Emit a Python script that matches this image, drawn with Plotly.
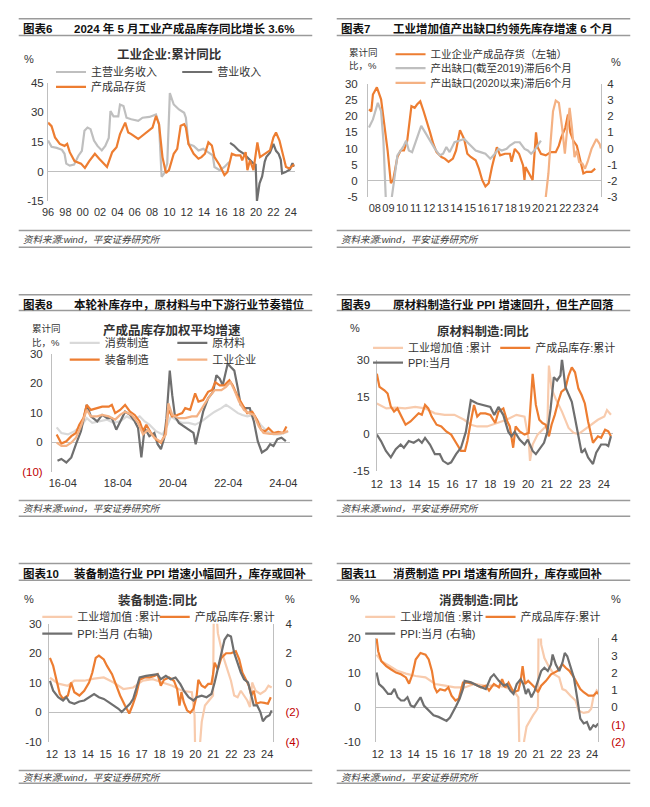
import plotly.graph_objects as go

W, H = 650, 807
def px(x): return x / W
def py(y): return 1 - y / H

FONT = "Liberation Sans, Arial, Noto Sans CJK SC, sans-serif"
ORANGE = "#ED7D31"
DGRAY = "#6F6F6F"
LGRAY = "#BFBFBF"
VLGRAY = "#D9D9D9"
PEACH = "#F4B183"
LPEACH = "#F8CBAD"
AXC = "#BFBFBF"
TXT = "#333333"
RED = "#C00000"

# ---------------- Data: 图表6 ----------------
p6_inv_x = [1996.0, 1996.4, 1996.8, 1997.35, 1997.9, 1998.2, 1998.5, 1999.05, 1999.8, 2000.25, 2000.75, 2001.4, 2001.9,
            2002.4, 2002.8, 2003.4, 2003.9, 2004.3, 2004.9, 2005.25, 2005.6, 2006.4, 2006.9, 2007.7, 2008.05, 2008.45,
            2008.8, 2009.2, 2009.6, 2009.95, 2010.5, 2010.9, 2011.3, 2011.7, 2011.9, 2012.2, 2012.8, 2013.35, 2013.7,
            2014.1, 2014.5, 2014.9, 2015.2, 2015.8, 2016.35, 2016.7, 2017.2, 2017.65, 2018.2, 2018.4, 2018.8, 2019.0,
            2019.3, 2019.7, 2020.15, 2020.45, 2021.0, 2021.6, 2022.0, 2022.3, 2022.7, 2023.0, 2023.45, 2023.85, 2024.15, 2024.4]
p6_inv_y = [24.8, 23, 17.3, 14, 13, 14, 9.8, 5.3, 4, 1.8, 5.3, 9, 6.5, 4, 2.3, 9.8, 12.3, 19, 24.8, 19.8, 19, 16.5, 18.2,
            21, 22.3, 28.2, 24, 7.3, -0.8, 0.7, 9, 11.5, 23.2, 24, 22.3, 14, 9, 6.5, 7.3, 9, 14.8, 13.2, 7.3, 3.2, -1.8,
            -0.2, 9, 8.2, 8.2, 5.7, 9.8, 0.7, 5.7, 0.7, 14.8, 7.3, 9, 10.7, 17.3, 19.8, 15.7, 10.7, 2.3, 1.5, 2.7, 3.6]
p6_main_x = [1996.0, 1996.4, 1997.0, 1997.6, 1997.9, 1998.1, 1998.5, 1999.0, 1999.5, 1999.9, 2000.2, 2000.55, 2000.9,
             2001.3, 2001.7, 2002.2, 2002.6, 2003.0, 2003.2, 2003.55, 2004.1, 2004.3, 2004.7, 2005.05, 2005.6, 2006.4,
             2006.9, 2007.7, 2008.45, 2008.8, 2009.1, 2009.4, 2009.75, 2010.05, 2010.5, 2011.1, 2011.7, 2011.9, 2012.2,
             2012.8, 2013.35, 2013.9, 2014.45, 2015.0, 2015.2, 2015.8, 2016.35, 2016.9]
p6_main_y = [15.7, 12.5, 12, 11, 9, 4, 3, 3.5, 8, 10.5, 20.7, 22.3, 21.5, 15.7, 13, 10.7, 13, 17, 30.7, 28, 28, 34, 33.2,
             27.3, 26.5, 25.7, 27.3, 27.7, 29, 24, -2.7, -1, 4, 39.8, 34, 31.5, 29.8, 27.3, 14, 13, 10.7, 11.5, 9.8, 8.2,
             2.3, 0.7, 2.3, 4.8]
p6_rev_x = [2017.0, 2017.45, 2018.0, 2018.6, 2019.15, 2019.7, 2019.95, 2020.1, 2020.4, 2020.7, 2021.0, 2021.2, 2021.6,
            2022.0, 2022.3, 2022.6, 2022.85, 2023.0, 2023.4, 2023.9, 2024.2, 2024.4]
p6_rev_y = [14.5, 13.2, 10.7, 9, 6.5, 4, 3.5, -15, -6, -2.5, 5, 7.5, 9.5, 14, 10.5, 9, 6, -1, -0.3, 1, 4.2, 2.5]
p6_xticks = list(range(1996, 2025, 2))
p6_xlabels = ["96", "98", "00", "02", "04", "06", "08", "10", "12", "14", "16", "18", "20", "22", "24"]

# ---------------- Data: 图表7 ----------------
p7_inv_x = [2008.07, 2008.24, 2008.36, 2008.65, 2008.96, 2009.2, 2009.44, 2009.68, 2009.85, 2010.16, 2010.4, 2010.64,
            2010.88, 2011.19, 2011.43, 2011.6, 2011.84, 2012.08, 2012.32, 2012.56, 2012.8, 2013.04, 2013.4, 2013.64,
            2013.92, 2014.24, 2014.47, 2014.76, 2015.07, 2015.3, 2015.55, 2015.91, 2016.15, 2016.39, 2016.63, 2016.87,
            2017.11, 2017.47, 2017.71, 2018.07, 2018.43, 2018.55, 2018.79, 2019.1, 2019.4, 2019.5, 2019.58, 2019.87,
            2020.1, 2020.35, 2020.47, 2020.71, 2021.07, 2021.43, 2021.8, 2022.03, 2022.2, 2022.5, 2022.7, 2022.87,
            2023.1, 2023.35, 2023.59, 2023.83, 2024.07, 2024.43, 2024.7]
p7_inv_y = [22.1, 21.5, 26.7, 28.9, 25.2, 17.5, 9.4, -0.7, 0.3, 7.4, 9.4, 9.4, 12.4, 23.1, 22.6, 23.6, 24.6, 21.6, 18.5,
            15, 11.4, 8.9, 7.4, 6.9, 5.9, 6.9, 9.4, 15.7, 12.9, 8.4, 7.4, 6.4, 3.8, 0.3, -1.7, -0.7, 4.3, 10.4, 7.9, 8.4,
            8.4, 5.9, 9.9, 8.4, 4.8, 0.3, 4.3, 2.3, 0.3, 15, 10.4, 8.4, 7.9, 8.9, 8.9, 10.9, 13.4, 16.4, 20.5, 15, 12.4,
            10.9, 6.4, 2.3, 2.8, 2.8, 3.8]
p7_gap1_x = [2008.07, 2008.36, 2008.72, 2008.96, 2009.13, 2009.27, 2009.4, 2009.6, 2009.75, 2009.92, 2010.16, 2010.4,
             2010.64, 2010.8, 2011.0, 2011.24, 2011.6, 2011.91, 2012.2, 2012.56, 2012.92, 2013.28, 2013.52, 2013.76,
             2014.0, 2014.36, 2014.71, 2015.07, 2015.43, 2015.91, 2016.27, 2016.63, 2016.99, 2017.23, 2017.59, 2017.83,
             2018.19, 2018.43, 2018.79, 2019.15, 2019.51, 2019.75, 2019.99, 2020.23, 2020.47, 2020.71]
p7_gap1_y = [1.3, 1.8, 2.82, 2.3, 0.49, -2.96, -5, -5, -3, -1.95, -0.42, -0.12, 0.19, 0.49, -0.12, -0.22, 0.69, 1.4,
             1.0, 0.49, -0.02, -0.42, -0.32, 0.09, -0.22, 0.39, 0.49, 0.59, 0.28, -0.12, -0.22, -0.32, -0.63, -0.42,
             -0.02, -0.12, -0.02, 0.19, 0.39, 0.39, -0.02, -0.12, -0.32, -0.12, 0.19, 0.49]
p7_gap2_x = [2021.0, 2021.26, 2021.43, 2021.6, 2021.8, 2022.03, 2022.27, 2022.47, 2022.63, 2022.82, 2022.99, 2023.18,
             2023.35, 2023.52, 2023.76, 2023.95, 2024.14, 2024.43, 2024.79, 2025.03, 2025.12]
p7_gap2_y = [-3.5, -1.54, 0.49, 2.3, 2.96, 2.82, 1.3, -0.32, 1.1, 2.51, 1.3, -0.53, -0.12, -0.83, -0.93, -1.24, -0.83,
             -0.02, 0.59, 0.28, 0.0]
p7_xticks = [y + 0.5 for y in range(2008, 2025)]
p7_xlabels = ["08", "09", "10", "11", "12", "13", "14", "15", "16", "17", "18", "19", "20", "21", "22", "23", "24"]

# ---------------- Data: 图表8 ----------------
p8_raw_x = [2016.06, 2016.2, 2016.38, 2016.56, 2016.73, 2016.91, 2017.12, 2017.27, 2017.5, 2017.68, 2017.86, 2018.03,
            2018.19, 2018.33, 2018.51, 2018.69, 2018.86, 2018.98, 2019.1, 2019.22, 2019.39, 2019.57, 2019.69, 2019.81,
            2019.93, 2020.01, 2020.13, 2020.22, 2020.32, 2020.46, 2020.64, 2020.81, 2020.99, 2021.07, 2021.17, 2021.34,
            2021.52, 2021.7, 2021.82, 2021.94, 2022.05, 2022.17, 2022.23, 2022.35, 2022.47, 2022.6, 2022.7, 2022.85,
            2023.03, 2023.18, 2023.32, 2023.47, 2023.65, 2023.77, 2023.89, 2024.03, 2024.18, 2024.34]
p8_raw_y = [-6.2, -5.6, -6.8, -5.1, -0.6, 3.8, 12.7, 8.8, 7.1, 9.3, 8.2, 8.2, 4.3, 7.1, 10.4, 9.3, 7.1, 4.9, -5.1, 4.9,
            2.1, 3.2, -0.6, -2.3, 1.6, 8.2, 24.3, 16, 8.8, 6.6, 5.4, 4.3, 3.2, -0.6, 3.8, 10.4, 14.9, 17.1, 22.7, 21.6,
            19.3, 23.8, 26.6, 25.4, 24.3, 18.2, 12.7, 11.6, 11.6, 7.1, 0.4, -3.4, -2.3, -0.6, -1.2, 1.1, 1.6, 0.4]
p8_equip_x = [2016.03, 2016.2, 2016.38, 2016.56, 2016.73, 2016.85, 2017.0, 2017.12, 2017.27, 2017.5, 2017.68, 2017.92,
              2018.03, 2018.15, 2018.33, 2018.51, 2018.69, 2018.86, 2019.04, 2019.16, 2019.28, 2019.45, 2019.63, 2019.81,
              2019.96, 2020.08, 2020.22, 2020.4, 2020.58, 2020.69, 2020.87, 2021.05, 2021.17, 2021.34, 2021.52, 2021.66,
              2021.78, 2021.94, 2022.11, 2022.29, 2022.41, 2022.6, 2022.76, 2022.94, 2023.12, 2023.29, 2023.44, 2023.59,
              2023.71, 2023.89, 2024.06, 2024.24, 2024.36]
p8_equip_y = [2.7, -0.4, 0.4, 2.1, 3.2, 6, 8.2, 12.7, 11, 11.6, 12.1, 12.1, 12.7, 9.9, 11, 12.7, 10.4, 9.3, 7.1, 3.8, 6,
              3.2, 1.0, -0.1, 2.7, 11, 8.8, 9.3, 9.9, 11.6, 11, 16.6, 13.8, 14.3, 17.1, 17.7, 20.4, 19.3, 19.3, 21, 19.3,
              15.4, 12.7, 9.9, 10.4, 7.7, 4.3, 3.8, 4.9, 3.2, 3.6, 3.2, 5.4]
p8_ind_x = [2016.03, 2016.2, 2016.38, 2016.56, 2016.73, 2016.91, 2017.12, 2017.27, 2017.5, 2017.68, 2017.92, 2018.15,
            2018.33, 2018.51, 2018.75, 2018.98, 2019.16, 2019.34, 2019.57, 2019.81, 2019.99, 2020.08, 2020.22, 2020.46,
            2020.69, 2020.93, 2021.11, 2021.29, 2021.52, 2021.76, 2022.0, 2022.17, 2022.33, 2022.47, 2022.64, 2022.82,
            2023.0, 2023.18, 2023.36, 2023.53, 2023.77, 2024.0, 2024.24, 2024.42]
p8_ind_y = [-0.1, -1.2, -1.2, -0.1, 1.6, 5.4, 11, 8.8, 8.8, 9.3, 8.8, 7.7, 9.3, 10.4, 9.3, 6.6, 2.7, 4.3, 1.6, 0.2, 2.7,
            13.2, 9.3, 8.2, 8.2, 8.8, 8.8, 11.6, 14.9, 17.7, 17.7, 18.8, 20.4, 17.7, 13.8, 11, 9.9, 9.3, 5.4, 3.2, 2.9,
            2.9, 3.2, 3.9]
p8_cons_x = [2016.03, 2016.2, 2016.44, 2016.68, 2016.91, 2017.12, 2017.32, 2017.56, 2017.86, 2018.09, 2018.33, 2018.57,
             2018.8, 2019.04, 2019.22, 2019.39, 2019.63, 2019.87, 2020.05, 2020.17, 2020.34, 2020.58, 2020.81, 2021.05,
             2021.29, 2021.52, 2021.76, 2022.0, 2022.17, 2022.35, 2022.6, 2022.76, 2022.94, 2023.18, 2023.42, 2023.65,
             2023.89, 2024.12, 2024.42]
p8_cons_y = [5.1, 3.2, 2.7, 3.8, 5.4, 8.2, 6.6, 7.1, 7.7, 6.6, 7.1, 8.8, 7.7, 8.8, 7.1, 6, 3.8, 2.7, 6, 8.8, 7.7, 6.6,
             6.6, 6, 7.1, 8.8, 10.4, 11.6, 12.7, 11.6, 9.9, 9.3, 8.8, 9.3, 6, 3.8, 2.7, 2.7, 3.6]
p8_xticks = [2016.25, 2018.25, 2020.25, 2022.25, 2024.25]
p8_xlabels = ["16-04", "18-04", "20-04", "22-04", "24-04"]

# ---------------- Data: 图表9 ----------------
p9_ppi_x = [2012.0, 2012.22, 2012.48, 2012.74, 2013.0, 2013.26, 2013.43, 2013.69, 2013.95, 2014.21, 2014.38, 2014.55,
            2014.81, 2015.07, 2015.33, 2015.5, 2015.76, 2015.93, 2016.19, 2016.45, 2016.71, 2016.97, 2017.31, 2017.74,
            2018.0, 2018.21, 2018.43, 2018.69, 2018.95, 2019.12, 2019.29, 2019.55, 2019.81, 2019.98, 2020.24, 2020.41,
            2020.59, 2020.84, 2021.02, 2021.19, 2021.36, 2021.53, 2021.71, 2021.79, 2021.97, 2022.14, 2022.31, 2022.48,
            2022.66, 2022.83, 2023.0, 2023.17, 2023.43, 2023.6, 2023.86, 2024.12, 2024.24, 2024.38]
p9_ppi_y = [-0.3, -2.9, -6.9, -9.5, -6.2, -4.3, -5.6, -2.9, -3.6, -2.3, -3.6, -1.6, -4.3, -8.2, -8.2, -10.9, -12.2,
            -11.5, -8.2, -5.6, 0.9, 13.6, 12.3, 11.6, 10.9, 7.6, 10.9, 7.6, 0.9, -1, 0.9, -2.3, -4.3, -2.3, -6.9, -8.2,
            -6.2, -3.6, 0.9, 10.2, 22.9, 21.6, 23.6, 30.3, 19, 16.3, 13, 6.3, -0.3, -7.6, -6.2, -9.5, -12.2, -7.6, -4.3,
            -4.3, -4.9, -0.9]
p9_inv_x = [2012.0, 2012.14, 2012.4, 2012.57, 2012.74, 2012.91, 2013.09, 2013.26, 2013.52, 2013.78, 2014.03, 2014.21,
            2014.38, 2014.55, 2014.72, 2014.9, 2015.16, 2015.41, 2015.67, 2015.93, 2016.19, 2016.45, 2016.66, 2016.79,
            2016.97, 2017.14, 2017.31, 2017.48, 2017.74, 2018.0, 2018.26, 2018.43, 2018.69, 2018.9, 2019.03, 2019.21,
            2019.34, 2019.55, 2019.81, 2020.03, 2020.24, 2020.41, 2020.59, 2020.76, 2020.93, 2021.1, 2021.24, 2021.41,
            2021.59, 2021.76, 2021.97, 2022.14, 2022.31, 2022.48, 2022.66, 2022.83, 2023.0, 2023.17, 2023.43, 2023.69,
            2023.86, 2024.07, 2024.24, 2024.38]
p9_inv_y = [24.3, 19, 17.6, 16.3, 11, 9, 10.3, 7.7, 3.7, 5, 7, 8.3, 7.7, 11.7, 10.3, 7, 3.7, 3, 1, -0.3, -3.6, -6.9,
            -6.9, -2.9, 5, 11.7, 7, 8.3, 8.3, 7.7, 4.4, 9, 10.3, 5, 3, -5.6, 3, 1, -0.3, 0.4, 24.3, 11.7, 5.7, 4.4, 3.7,
            -1, 3.7, 7.7, 13, 17, 18.3, 23.6, 26.9, 24.9, 18.3, 15.7, 12.3, 5, -3.6, -1, -1.6, 1.7, 1, -1]
p9_iva_x = [2012.0, 2012.5, 2013.0, 2013.5, 2014.03, 2014.55, 2015.07, 2015.59, 2016.1, 2016.62, 2016.97, 2017.31,
            2017.83, 2018.34, 2018.86, 2019.38, 2019.81, 2020.03, 2020.1, 2020.24, 2020.5, 2020.76, 2021.02, 2021.1,
            2021.24, 2021.45, 2021.79, 2022.14, 2022.4, 2022.66, 2023.0, 2023.34, 2023.69, 2024.03, 2024.17, 2024.38]
p9_iva_y = [12.3, 10.3, 10.6, 10.3, 10.9, 10.3, 8.3, 7.7, 7.7, 5.7, 3.7, 3, 3, 4.4, 5.7, 7.7, 7, -2.3, -10.9, -4.3,
            -0.3, 1.7, 3.7, 27.6, 18.3, 14.3, 9, 2.4, 0.4, -0.1, 1.7, 3.7, 5.7, 7, 9.6, 7.7]
p9_xticks = list(range(2012, 2025))
p9_xlabels = ["12", "13", "14", "15", "16", "17", "18", "19", "20", "21", "22", "23", "24"]

# ---------------- Data: 图表10 ----------------
p10_ppi_x = [2011.89, 2012.07, 2012.35, 2012.62, 2012.8, 2012.98, 2013.25, 2013.53, 2013.8, 2014.07, 2014.35, 2014.62,
             2014.89, 2015.16, 2015.44, 2015.71, 2015.89, 2016.07, 2016.35, 2016.53, 2016.71, 2016.89, 2017.25, 2017.62,
             2017.89, 2018.07, 2018.35, 2018.62, 2018.89, 2019.16, 2019.35, 2019.62, 2019.89, 2020.07, 2020.35, 2020.62,
             2020.89, 2021.07, 2021.25, 2021.44, 2021.62, 2021.8, 2021.98, 2022.16, 2022.35, 2022.53, 2022.71, 2022.93,
             2023.07, 2023.25, 2023.44, 2023.62, 2023.76, 2023.95, 2024.13, 2024.25]
p10_ppi_y = [0.13, -0.53, -0.98, -1.2, -0.98, -1.31, -1.42, -1.27, -1.2, -0.98, -0.76, -0.98, -1.09, -1.31, -1.53,
             -1.76, -1.98, -1.76, -1.42, -1.09, -0.42, 0.36, 0.47, 0.51, 0.58, 0.24, 0.47, 0.24, 0.36, -0.09, -0.53,
             -0.98, -1.2, -0.98, -0.87, -0.98, -0.76, 0.02, 1.0, 2.02, 2.91, 3.24, 3.13, 2.02, 1.36, 0.69, 0.24, 0.02,
             -0.64, -1.53, -1.53, -1.98, -2.6, -2.31, -2.2, -1.87]
p10_inv_x = [2011.89, 2012.07, 2012.25, 2012.44, 2012.62, 2012.89, 2013.07, 2013.25, 2013.53, 2013.8, 2014.07, 2014.25,
             2014.44, 2014.62, 2014.89, 2015.07, 2015.35, 2015.53, 2015.8, 2016.07, 2016.31, 2016.49, 2016.71, 2016.89,
             2017.16, 2017.44, 2017.71, 2017.89, 2018.07, 2018.25, 2018.53, 2018.8, 2018.98, 2019.11, 2019.22, 2019.35,
             2019.53, 2019.71, 2019.89, 2020.07, 2020.16, 2020.35, 2020.53, 2020.71, 2020.89, 2020.98, 2021.07, 2021.25,
             2021.44, 2021.71, 2021.98, 2022.25, 2022.44, 2022.62, 2022.8, 2022.98, 2023.11, 2023.25, 2023.4, 2023.62,
             2023.84, 2024.04, 2024.2]
p10_inv_y = [18.4, 15.7, 11, 6.2, 4.6, 5.7, 10.1, 6.8, 5.7, 7.3, 10.1, 13.4, 18.4, 19.2, 17.9, 15.7, 12.9, 10.1, 5.7,
             2.3, -0.4, 2.3, 6.2, 11, 11.8, 11.8, 12.3, 12.9, 9, 11, 11.8, 10.7, 7.9, 2.3, 6.8, 3.4, 0.7, -0.1, 1.2, 5.7,
             11, 9, 8.4, 9.6, 9.6, 12.9, 16.8, 14.6, 18.4, 20, 20, 20.7, 17.9, 13.4, 11, 9, 5.7, 7.3, 2.9, 3.4, 3.2, 2.9,
             5.1]
p10_iva_x = [2011.89, 2012.35, 2012.89, 2013.25, 2013.8, 2014.35, 2014.89, 2015.44, 2015.98, 2016.53, 2017.07, 2017.62,
             2018.16, 2018.71, 2019.25, 2019.8, 2019.95, 2020.02, 2020.2, 2020.35, 2020.53, 2020.8, 2020.98, 2021.04,
             2021.1, 2021.25, 2021.53, 2021.8, 2021.98, 2022.16, 2022.35, 2022.53, 2022.71, 2022.89, 2023.04, 2023.16,
             2023.35, 2023.62, 2023.89, 2024.07, 2024.25]
p10_iva_y = [11.7, 9.7, 9, 10.7, 10.7, 11.4, 11.8, 10.1, 7.9, 8.4, 10.7, 11.2, 10.1, 9, 7.3, 6.8, -1, -25, -15, -3.2,
             2.3, 4.6, 5.7, 45, 40, 26.8, 19.2, 14.2, 10.7, 5.7, 5.1, 7.3, 5.7, 4, 1.8, 10.1, 7.3, 6.2, 7.3, 9, 8.4]
p10_xticks = list(range(2012, 2025))
p10_xlabels = p9_xlabels

# ---------------- Data: 图表11 ----------------
p11_inv_x = [2011.93, 2012.02, 2012.2, 2012.47, 2012.75, 2013.02, 2013.3, 2013.57, 2013.75, 2013.94, 2014.12, 2014.39,
             2014.67, 2014.85, 2015.03, 2015.18, 2015.31, 2015.49, 2015.76, 2015.95, 2016.13, 2016.35, 2016.53, 2016.77,
             2017.04, 2017.41, 2017.77, 2018.05, 2018.23, 2018.5, 2018.78, 2018.96, 2019.14, 2019.32, 2019.6, 2019.87,
             2020.0, 2020.11, 2020.24, 2020.42, 2020.6, 2020.79, 2020.97, 2021.15, 2021.42, 2021.7, 2022.06, 2022.34,
             2022.52, 2022.73, 2022.98, 2023.16, 2023.34, 2023.53, 2023.8, 2024.07, 2024.26, 2024.35]
p11_inv_y = [20.1, 16.3, 13.4, 12, 11, 10.1, 9.6, 8.7, 6.9, 9.6, 13.9, 15.8, 15.3, 13.9, 10.6, 5.8, 4.4, 5.3, 4.9, 5.8,
             3.4, 2, 2.5, 7.2, 7.2, 6.8, 5.8, 6.3, 4.9, 6.8, 5.8, 8.2, 5.8, 7.2, 4.4, 4.9, 7.7, 12, 6.8, 7.7, 6.8, 5.8,
             4.4, 6.3, 7.7, 9.6, 10.6, 12.5, 11.5, 10.6, 8.7, 6.8, 5.3, 4.4, 3.4, 3.4, 4.4, 3.9]
p11_iva_x = [2011.93, 2012.2, 2012.66, 2013.11, 2013.57, 2014.12, 2014.67, 2015.21, 2015.76, 2016.31, 2016.86, 2017.41,
             2017.95, 2018.5, 2019.05, 2019.6, 2019.87, 2019.96, 2020.1, 2020.2, 2020.33, 2020.51, 2020.69, 2020.88,
             2020.97, 2021.02, 2021.08, 2021.15, 2021.33, 2021.61, 2021.88, 2022.16, 2022.34, 2022.52, 2022.79, 2023.07,
             2023.25, 2023.53, 2023.8, 2023.95, 2024.07, 2024.26, 2024.35]
p11_iva_y = [15.3, 13.4, 12, 10.6, 9.8, 9.1, 8.7, 6.8, 6.3, 5.8, 5.8, 6.8, 6.3, 6.3, 6, 4.9, 2.9, -20, -14, -9.5, -5.6,
             -3.7, -2.3, -0.9, 0, 35, 28, 18.2, 14.3, 11.5, 9.6, 8.7, 5.3, 4.9, 3.4, 2, -1, -1.6, -1.3, -0.4, 2.9, 4.9,
             4.4]
p11_ppi_x = [2011.93, 2012.07, 2012.29, 2012.57, 2012.75, 2012.93, 2013.11, 2013.3, 2013.48, 2013.66, 2013.84, 2014.03,
             2014.21, 2014.39, 2014.58, 2014.85, 2015.12, 2015.4, 2015.67, 2015.85, 2016.04, 2016.22, 2016.4, 2016.58,
             2016.77, 2016.86, 2017.22, 2017.59, 2018.05, 2018.32, 2018.5, 2018.78, 2019.05, 2019.23, 2019.42, 2019.6,
             2019.78, 2020.0, 2020.15, 2020.29, 2020.42, 2020.6, 2020.79, 2020.97, 2021.15, 2021.33, 2021.52, 2021.7,
             2021.79, 2021.97, 2022.16, 2022.34, 2022.47, 2022.61, 2022.79, 2022.98, 2023.16, 2023.34, 2023.53, 2023.71,
             2023.89, 2024.07, 2024.2, 2024.35]
p11_ppi_y = [2.02, 1.35, 1.15, 0.78, 0.78, 1.07, 0.59, 0.4, 0.4, 0.59, 0.11, 0.02, 0.31, 0.59, 0.11, -0.17, -0.46,
             -0.55, -0.7, -0.78, -0.59, -0.27, 0.11, 0.5, 1.07, 1.54, 1.45, 1.26, 1.07, 1.73, 1.92, 1.54, 1.26, 1.35,
             0.97, 0.78, 1.35, 1.64, 1.35, 0.78, 1.07, 0.59, 0.97, 1.54, 2.11, 2.3, 2.11, 2.49, 3.07, 2.49, 2.11, 2.59,
             3.16, 2.97, 2.3, 1.73, 0.59, -0.65, -0.93, -0.84, -1.31, -1.03, -1.12, -0.93]
p11_xticks = list(range(2012, 2025))
p11_xlabels = p9_xlabels

# ---------------- Figure ----------------
fig = go.Figure()

def add(x, y, name, color, xa, ya, legend, width=2.2):
    fig.add_trace(go.Scatter(x=x, y=y, name=name, mode="lines",
                             line=dict(color=color, width=width),
                             xaxis=xa, yaxis=ya, legend=legend, hoverinfo="skip", showlegend=True))

# 图表6
add(p6_main_x, p6_main_y, "主营业务收入", LGRAY, "x", "y", "legend")
add(p6_rev_x, p6_rev_y, "营业收入", DGRAY, "x", "y", "legend2")
add(p6_inv_x, p6_inv_y, "产成品存货", ORANGE, "x", "y", "legend3")
# 图表7
add(p7_inv_x, p7_inv_y, "工业企业产成品存货（左轴）", ORANGE, "x2", "y2", "legend4")
add(p7_gap1_x, p7_gap1_y, "产出缺口(截至2019)滞后6个月", LGRAY, "x2", "y3", "legend5")
add(p7_gap2_x, p7_gap2_y, "产出缺口(2020以来)滞后6个月", PEACH, "x2", "y3", "legend6")
# 图表8
add(p8_cons_x, p8_cons_y, "消费制造", VLGRAY, "x3", "y4", "legend7")
add(p8_raw_x, p8_raw_y, "原材料", DGRAY, "x3", "y4", "legend8")
add(p8_equip_x, p8_equip_y, "装备制造", ORANGE, "x3", "y4", "legend9")
add(p8_ind_x, p8_ind_y, "工业企业", PEACH, "x3", "y4", "legend10")
# 图表9
add(p9_iva_x, p9_iva_y, "工业增加值 :累计", LPEACH, "x4", "y5", "legend11")
add(p9_inv_x, p9_inv_y, "产成品库存:累计", ORANGE, "x4", "y5", "legend12")
add(p9_ppi_x, p9_ppi_y, "PPI:当月", DGRAY, "x4", "y5", "legend13")
# 图表10
add(p10_iva_x, p10_iva_y, "工业增加值 :累计", LPEACH, "x5", "y6", "legend14")
add(p10_inv_x, p10_inv_y, "产成品库存:累计", ORANGE, "x5", "y6", "legend15")
add(p10_ppi_x, p10_ppi_y, "PPI:当月 (右轴)", DGRAY, "x5", "y7", "legend16")
# 图表11
add(p11_iva_x, p11_iva_y, "工业增加值 :累计", LPEACH, "x6", "y8", "legend17")
add(p11_inv_x, p11_inv_y, "产成品库存:累计", ORANGE, "x6", "y8", "legend18")
add(p11_ppi_x, p11_ppi_y, "PPI:当月 (右轴)", DGRAY, "x6", "y9", "legend19")

tickfont = dict(family=FONT, size=11.5, color=TXT)
xtickfont = dict(family=FONT, size=11, color=TXT)

def xax(d0, d1, rng, tv, tt, anchor, standoff=3):
    return dict(domain=[px(d0), px(d1)], range=rng, anchor=anchor, tickmode="array", tickvals=tv, ticktext=tt,
                showgrid=False, zeroline=False, showline=False, ticks="", tickfont=xtickfont, tickangle=0,
                ticklabelstandoff=standoff, fixedrange=True)

def yax(top, bot, rng, tv, tt, anchor, side="left", overlay=None, zeroline=True, standoff=2):
    d = dict(range=rng, anchor=anchor, side=side, tickmode="array", tickvals=tv, ticktext=tt,
             showgrid=False, zeroline=zeroline, zerolinecolor=AXC, zerolinewidth=1,
             showline=True, linecolor=AXC, linewidth=1, ticks="", tickfont=tickfont, tickangle=0,
             ticklabelstandoff=standoff, fixedrange=True)
    if overlay:
        d["overlaying"] = overlay
    else:
        d["domain"] = [py(bot), py(top)]
    return d

def red(s):
    return "<span style='color:%s'>%s</span>" % (RED, s)

lay = dict(
    width=W, height=H, margin=dict(l=0, r=0, t=0, b=0),
    paper_bgcolor="white", plot_bgcolor="white", showlegend=True,
    font=dict(family=FONT, color=TXT),
    xaxis=xax(43, 295, [1996, 2024.45], p6_xticks, p6_xlabels, "y"),
    yaxis=yax(78, 198, [-15, 45], [-15, 0, 15, 30, 45], ["-15", "0", "15", "30", "45"], "x", standoff=1),
    xaxis2=xax(370, 608, [2008, 2025.12], p7_xticks, p7_xlabels, "y2"),
    yaxis2=yax(79, 194, [-5, 30], list(range(-5, 31, 5)), [str(v) for v in range(-5, 31, 5)], "x2", standoff=7),
    yaxis3=yax(79, 194, [-3, 4], list(range(-3, 5)), [str(v) for v in range(-3, 5)], "x2", side="right",
               overlay="y2", zeroline=False, standoff=3),
    xaxis3=xax(47, 290, [2015.86, 2024.48], p8_xticks, p8_xlabels, "y4"),
    yaxis4=yax(353, 473, [-10, 30], [-10, 0, 10, 20, 30], [red("(10)"), "0", "10", "20", "30"], "x3", standoff=6),
    xaxis4=xax(379, 620, [2012.0, 2024.47], p9_xticks, p9_xlabels, "y5", standoff=5),
    yaxis5=yax(359, 472, [-15, 30], [-15, 0, 15, 30], ["-15", "0", "15", "30"], "x4", standoff=4),
    xaxis5=xax(44, 273, [2011.84, 2024.33], p10_xticks, p10_xlabels, "y6", standoff=4),
    yaxis6=yax(627, 747, [-10, 30], [-10, 0, 10, 20, 30], ["-10", "0", "10", "20", "30"], "x5", standoff=4),
    yaxis7=yax(627, 747, [-4, 4], [-4, -2, 0, 2, 4], [red("(4)"), red("(2)"), "0", "2", "4"], "x5", side="right",
               overlay="y6", zeroline=False, standoff=9),
    xaxis6=xax(378, 605, [2011.89, 2024.33], p11_xticks, p11_xlabels, "y8", standoff=4),
    yaxis8=yax(642, 747, [-10, 20], [-10, 0, 10, 20], ["-10", "0", "10", "20"], "x6", standoff=12),
    yaxis9=yax(642, 747, [-2, 4], list(range(-2, 5)), [red("(2)"), red("(1)"), "0", "1", "2", "3", "4"], "x6",
               side="right", overlay="y8", zeroline=False, standoff=10),
)

# legends: (key, text start x, y center, font size)
legs = [("legend", 86, 67, 11), ("legend2", 215, 67, 11), ("legend3", 86, 82, 11),
        ("legend4", 433, 49, 10.5), ("legend5", 433, 63, 10.5), ("legend6", 433, 78, 10.5),
        ("legend7", 100, 342, 11), ("legend8", 210, 342, 11), ("legend9", 100, 359, 11), ("legend10", 210, 359, 11),
        ("legend11", 410, 347, 11), ("legend12", 540, 347, 11), ("legend13", 410, 362, 11),
        ("legend14", 72, 620, 11), ("legend15", 192, 620, 11), ("legend16", 72, 637, 11),
        ("legend17", 402, 620, 11), ("legend18", 525, 620, 11), ("legend19", 402, 637, 11)]
for key, tx, ty, fs in legs:
    lay[key] = dict(x=px(tx - 40), y=py(ty), xanchor="left", yanchor="middle", orientation="h",
                    bgcolor="rgba(0,0,0,0)", borderwidth=0, itemwidth=30, tracegroupgap=0, visible=True,
                    font=dict(family=FONT, size=fs, color=TXT), itemclick=False, itemdoubleclick=False)

fig.update_layout(**lay)

ann = []
def text(x, y, s, size=11, anchor="left", color=TXT):
    ann.append(dict(x=px(x), y=py(y), xref="paper", yref="paper", text=s, showarrow=False,
                    xanchor=anchor, yanchor="middle", font=dict(family=FONT, size=size, color=color)))

# header titles
heads = [(15, 67, 22.5, "图表6", "2024 年 5 月工业产成品库存同比增长 3.6%"),
         (340, 393, 22.5, "图表7", "工业增加值产出缺口约领先库存增速 6 个月"),
         (15, 67, 302.5, "图表8", "本轮补库存中，原材料与中下游行业节奏错位"),
         (340, 393, 302.5, "图表9", "原材料制造行业 PPI 增速回升，但生产回落"),
         (15, 67, 576, "图表10", "装备制造行业 PPI 增速小幅回升，库存或回补"),
         (340, 393, 576, "图表11", "消费制造 PPI 增速有所回升，库存或回补")]
for x0, x1, y, a, b in heads:
    text(x0, y, "<b>%s</b>" % a, 11.5, color="#111111")
    text(x1, y, "<b>%s</b>" % b, 11.5, color="#111111")

# source lines
for x0, y in [(15, 237), (340, 237), (15, 510), (340, 510), (15, 783), (340, 783)]:
    text(x0, y, "<i>资料来源:wind，平安证券研究所</i>", 9.5, color="#404040")

# chart titles
text(167, 49, "<b>工业企业:累计同比</b>", 12.5, "center")
text(170, 329, "<b>产成品库存加权平均增速</b>", 12.5, "center")
text(488, 330, "<b>原材料制造:同比</b>", 12.5, "center")
text(155, 603, "<b>装备制造:同比</b>", 12.5, "center")
text(483, 603, "<b>消费制造:同比</b>", 12.5, "center")

# units
text(23, 54, "%", 11, "center")
text(365, 47, "累计同", 9.5, "center")
text(365, 60, "比，%", 9.5, "center")
text(623, 57, "%", 11, "center")
text(41, 327, "累计同", 9.5, "center")
text(41, 342, "比，%", 9.5, "center")
text(357, 327, "%", 11, "center")
text(23, 602, "%", 11, "center")
text(290, 602, "%", 11, "center")
text(357, 602, "%", 11, "center")
text(623, 602, "%", 11, "center")

shapes = []
def rule(x0, x1, y, w=1.5, c="#9A9A9A"):
    shapes.append(dict(type="line", xref="paper", yref="paper", x0=px(x0), x1=px(x1), y0=py(y), y1=py(y),
                       line=dict(color=c, width=w)))

for (xa, xb) in [(13, 313), (338, 638)]:
    for y in [13, 30, 228, 245, 293, 309, 502, 518, 566, 583, 776, 789]:
        rule(xa, xb, y)

fig.update_layout(annotations=ann, shapes=shapes)
fig.write_html("out.html")
